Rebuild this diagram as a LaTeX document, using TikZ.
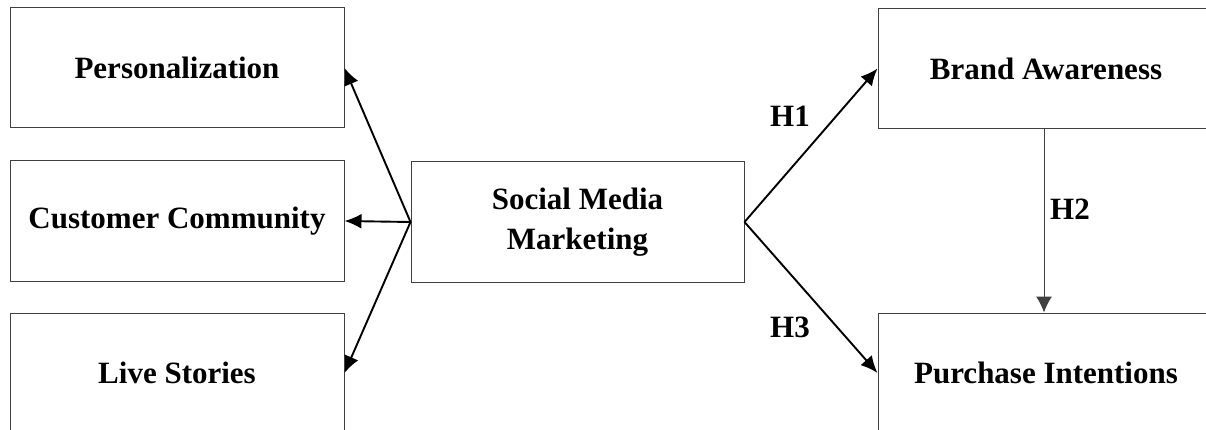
\documentclass[tikz,border=0pt]{standalone}
\usepackage{fontspec}
\setmainfont{Liberation Serif}
\usetikzlibrary{arrows.meta}
\begin{document}
\begin{tikzpicture}[x=1pt, y=-1pt,
					conbox/.style = {draw=black!75, line width=1pt, inner sep=0pt, align=center,
						minimum width=333pt, minimum height=120pt,
						font=\fontsize{31}{40}\selectfont\bfseries},
					hlabel/.style = {font=\fontsize{31}{40}\selectfont\bfseries},
					effect/.style = {-{Latex[length=17pt,width=15pt]}, line width=1.9pt},
					mediate/.style = {-{Latex[length=16pt,width=16pt]}, line width=1pt, draw=black!75}
				]
				\clip (0,0) rectangle (1206,430);
				\def\leftx{177}
				\def\rightx{1046}
				\node[conbox, minimum width=334pt] (pers) at (\leftx, 68) {Personalization};
				\node[conbox, minimum width=334pt] (cust) at (\leftx, 221) {Customer Community};
				\node[conbox, minimum width=334pt] (live) at (\leftx, 373) {Live Stories};
				\node[conbox] (smm) at (577.5, 222) {Social Media\\Marketing};
				\node[conbox, minimum width=336pt] (brand) at (\rightx, 68.5) {Brand Awareness};
				\node[conbox, minimum width=336pt] (purch) at (\rightx, 373) {Purchase Intentions};
				% dimensions
				\draw[effect] (smm.west) -- (pers.east);
				\draw[effect] (smm.west) -- (cust.east);
				\draw[effect] (smm.west) -- (live.east);
				% hypotheses
				\draw[effect] (smm.east) -- (brand.west);
				\draw[effect] (smm.east) -- (purch.west);
				\draw[mediate] (brand.south -| 1044,0) -- (purch.north -| 1044,0);
				\node[hlabel] (h1) at (790, 116) {H1};
				\node[hlabel] (h2) at (1070, 209) {H2};
				\node[hlabel] (h3) at (790, 327) {H3};
			\end{tikzpicture}
\end{document}
